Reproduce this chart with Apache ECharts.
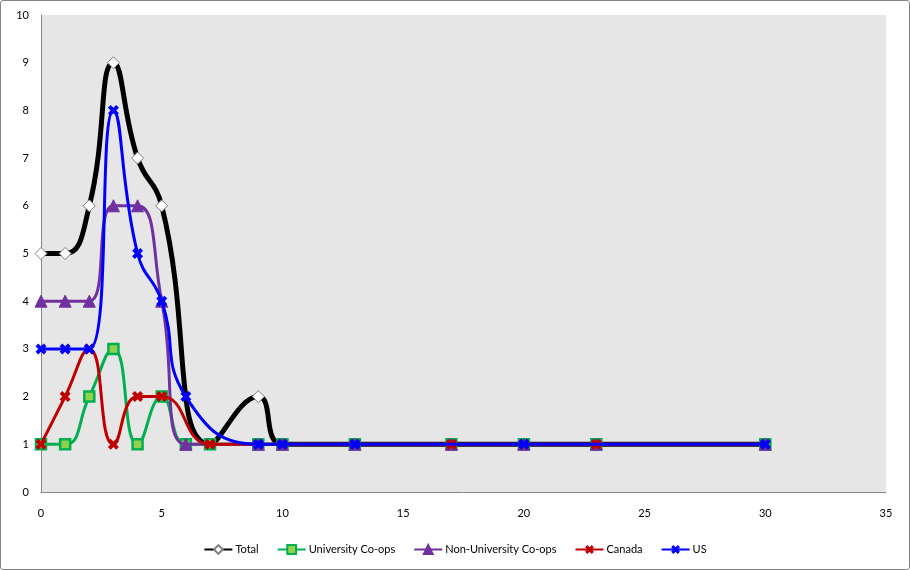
<!DOCTYPE html>
<html><head><meta charset="utf-8">
<script src="https://cdn.jsdelivr.net/npm/echarts@6/dist/echarts.min.js"></script>
<style>
html,body{margin:0;padding:0;background:#fff;}
#wrap{position:absolute;left:0;top:0;width:908px;height:568px;border:1px solid #868686;border-radius:3px;}
#c{position:absolute;left:-1px;top:-1px;width:910px;height:570px;}
</style></head><body>
<div id="wrap"><div id="c"></div></div>
<script>
const totalX = [0,1,2,3,4,5,7,9,10,13,17,20,23,30];
const totalY = [5,5,6,9,7,6,1,2,1,1,1,1,1,1];
const univX = [0,1,2,3,4,5,6,7,9,10,13,17,20,23,30];
const univY = [1,1,2,3,1,2,1,1,1,1,1,1,1,1,1];
const nonUnivX = [0,1,2,3,4,5,6,9,10,13,17,20,23,30];
const nonUnivY = [4,4,4,6,6,4,1,1,1,1,1,1,1,1];
const canadaX = [0,1,2,3,4,5,7,9,10,13,17,20,23,30];
const canadaY = [1,2,3,1,2,2,1,1,1,1,1,1,1,1];
const usX = [0,1,2,3,4,5,6,9,10,13,20,30];
const usY = [3,3,3,8,5,4,2,1,1,1,1,1];
const seriesNames = ['Total','University Co-ops','Non-University Co-ops','Canada','US'];

const pair = (xs, ys) => xs.map((x, i) => [x, ys[i]]);
const X = 'path://M2.5,0 L5,2.5 L7.5,0 L10,2.5 L7.5,5 L10,7.5 L7.5,10 L5,7.5 L2.5,10 L0,7.5 L2.5,5 L0,2.5 Z';
const font = 'Lato, "Liberation Sans", sans-serif';

const chart = echarts.init(document.getElementById('c'), null, {renderer:'canvas'});
chart.setOption({
  animation:false,
  textStyle:{fontFamily:font},
  grid:{left:41, right:24, top:15, bottom:78, show:true, backgroundColor:'#E6E6E6', borderWidth:0},
  xAxis:{type:'value', min:0, max:35, interval:5,
    axisLine:{show:true, onZero:false, lineStyle:{color:'#868686', width:1}},
    axisTick:{show:false}, splitLine:{show:false},
    axisLabel:{color:'#000', fontSize:11, margin:16, fontFamily:font}},
  yAxis:{type:'value', min:0, max:10, interval:1,
    axisLine:{show:true, lineStyle:{color:'#868686', width:1}},
    axisTick:{show:false}, splitLine:{show:false},
    axisLabel:{color:'#000', fontSize:11, margin:12, fontFamily:font}},
  legend:{bottom:10, left:'center', itemWidth:28, itemHeight:11, itemGap:18,
    textStyle:{color:'#000', fontSize:11, fontFamily:font, padding:[0,0,0,-2]},
    data:seriesNames},
  series:[
    {name:seriesNames[0], type:'line', smooth:0.5, data:pair(totalX,totalY),
     lineStyle:{color:'#000', width:5}, itemStyle:{color:'#fff', borderColor:'#7f7f7f', borderWidth:1},
     symbol:'diamond', symbolSize:12, z:2},
    {name:seriesNames[1], type:'line', smooth:0.5, data:pair(univX,univY),
     lineStyle:{color:'#00B050', width:3}, itemStyle:{color:'#92D050', borderColor:'#00B050', borderWidth:2.5},
     symbol:'rect', symbolSize:10, z:3},
    {name:seriesNames[2], type:'line', smooth:0.5, data:pair(nonUnivX,nonUnivY),
     lineStyle:{color:'#7030A0', width:3}, itemStyle:{color:'#7030A0', borderColor:'#7030A0', borderWidth:1},
     symbol:'triangle', symbolSize:12, z:4},
    {name:seriesNames[3], type:'line', smooth:0.5, data:pair(canadaX,canadaY),
     lineStyle:{color:'#C00000', width:3}, itemStyle:{color:'#C00000', borderWidth:0},
     symbol:X, symbolSize:11, z:5},
    {name:seriesNames[4], type:'line', smooth:0.5, data:pair(usX,usY),
     lineStyle:{color:'#0000FF', width:3}, itemStyle:{color:'#0000FF', borderWidth:0},
     symbol:X, symbolSize:11, z:6}
  ]
});
</script></body></html>
